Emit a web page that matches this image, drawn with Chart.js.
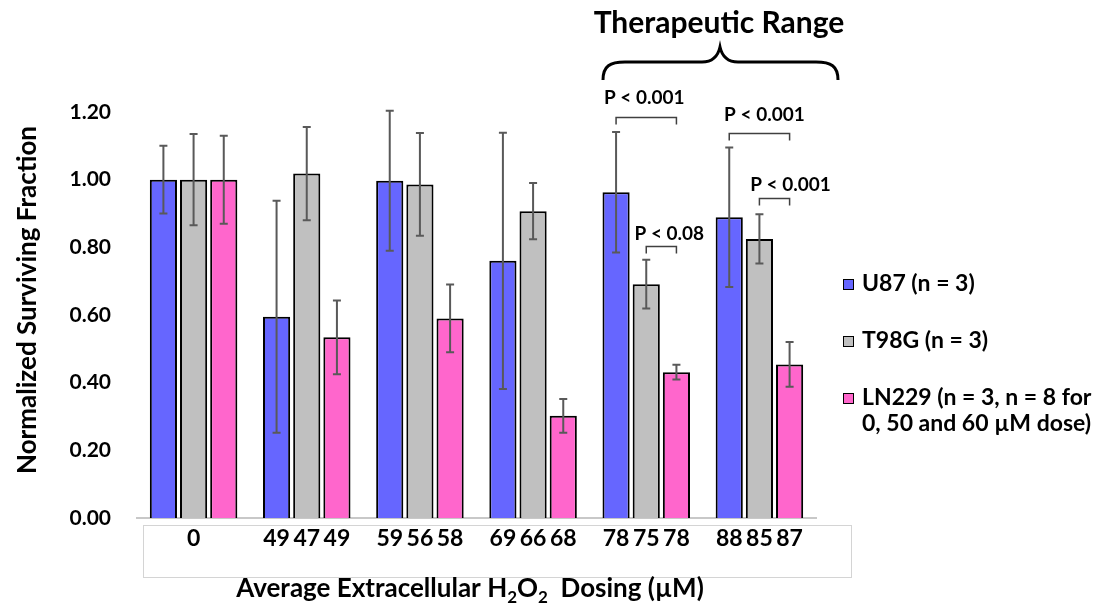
<!DOCTYPE html>
<html>
<head>
<meta charset="utf-8">
<script src="https://cdn.jsdelivr.net/npm/chart.js@4.4.0/dist/chart.umd.min.js"></script>
<style>
  html, body { margin: 0; padding: 0; background: #fff; }
  #wrap { width: 1106px; height: 603px; }
</style>
</head>
<body>
<div id="wrap"><canvas id="survivalChart" width="1106" height="603"></canvas></div>
<script>
// ---------------- data ----------------
const doseGroups = ['0', '49/47/49', '59/56/58', '69/66/68', '78/75/78', '88/85/87'];
const seriesNames = ['U87 (n = 3)', 'T98G (n = 3)', ['LN229 (n = 3, n = 8 for', '0, 50 and 60 \u00b5M dose)']];

const u87Values = [1.00, 0.595, 0.997, 0.760, 0.963, 0.889];
const u87Errors = [0.100, 0.343, 0.207, 0.379, 0.178, 0.206];
const u87Doses = ['', '49', '59', '69', '78', '88'];

const t98gValues = [1.00, 1.018, 0.986, 0.907, 0.691, 0.825];
const t98gErrors = [0.135, 0.138, 0.152, 0.083, 0.072, 0.073];
const t98gDoses = ['0', '47', '56', '66', '75', '85'];

const ln229Values = [1.00, 0.534, 0.590, 0.302, 0.431, 0.454];
const ln229Errors = [0.130, 0.109, 0.100, 0.050, 0.022, 0.066];
const ln229Doses = ['', '49', '58', '68', '78', '87'];

const yTicks = [0, 0.2, 0.4, 0.6, 0.8, 1.0, 1.2];

// significance brackets: group index, series from/to, bracket level, text level (data units)
const pBrackets = [
  { group: 4, from: 0, to: 2, level: 1.185, textLevel: 1.242, text: 'P < 0.001' },
  { group: 4, from: 1, to: 2, level: 0.804, textLevel: 0.840, text: 'P < 0.08' },
  { group: 5, from: 0, to: 2, level: 1.138, textLevel: 1.191, text: 'P < 0.001' },
  { group: 5, from: 1, to: 2, level: 0.946, textLevel: 0.984, text: 'P < 0.001' }
];
const pTextShift = [-2, 8, 5, 16];

const FONT = 'Lato, "Open Sans", sans-serif';
const colors = ['#6666ff', '#c0c0c0', '#ff66cc'];

// ---------------- overlay drawing ----------------
const overlayPlugin = {
  id: 'overlay',
  beforeDraw(chart) {
    const ctx = chart.ctx;
    ctx.save();
    ctx.fillStyle = '#fff';
    ctx.fillRect(0, 0, chart.width, chart.height);
    // label text box under the axis
    ctx.strokeStyle = '#d4d4d4';
    ctx.lineWidth = 1;
    ctx.strokeRect(143.5, 525.5, 708, 52);
    ctx.restore();
  },
  afterDatasetsDraw(chart) {
    const ctx = chart.ctx;
    const y = chart.scales.y;
    ctx.save();

    // error bars
    ctx.strokeStyle = '#595959';
    ctx.lineWidth = 2;
    chart.data.datasets.forEach((ds, i) => {
      chart.getDatasetMeta(i).data.forEach((bar, j) => {
        const top = y.getPixelForValue(ds.data[j] + ds.errors[j]);
        const bot = y.getPixelForValue(ds.data[j] - ds.errors[j]);
        ctx.beginPath();
        ctx.moveTo(bar.x, top); ctx.lineTo(bar.x, bot);
        ctx.moveTo(bar.x - 4, top); ctx.lineTo(bar.x + 4, top);
        ctx.moveTo(bar.x - 4, bot); ctx.lineTo(bar.x + 4, bot);
        ctx.stroke();
      });
    });

    // dose labels under each bar
    ctx.fillStyle = '#000';
    ctx.font = 'bold 23px ' + FONT;
    ctx.textAlign = 'center';
    ctx.textBaseline = 'middle';
    chart.data.datasets.forEach((ds, i) => {
      chart.getDatasetMeta(i).data.forEach((bar, j) => {
        if (ds.doses[j]) ctx.fillText(ds.doses[j], bar.x, 539);
      });
    });

    // p-value brackets
    ctx.strokeStyle = '#404040';
    ctx.lineWidth = 1.5;
    ctx.font = 'bold 19px ' + FONT;
    pBrackets.forEach((b, k) => {
      const x1 = chart.getDatasetMeta(b.from).data[b.group].x;
      const x2 = chart.getDatasetMeta(b.to).data[b.group].x;
      const yy = Math.round(y.getPixelForValue(b.level)) + 0.5;
      ctx.beginPath();
      ctx.moveTo(x1, yy + 7); ctx.lineTo(x1, yy); ctx.lineTo(x2, yy); ctx.lineTo(x2, yy + 7);
      ctx.stroke();
      ctx.fillText(b.text, (x1 + x2) / 2 + pTextShift[k], y.getPixelForValue(b.textLevel));
    });

    // therapeutic range title + brace
    ctx.font = 'bold 30px ' + FONT;
    ctx.fillText('Therapeutic Range', 719, 23);
    ctx.strokeStyle = '#000';
    ctx.lineWidth = 3;
    ctx.beginPath();
    ctx.moveTo(603, 80);
    ctx.bezierCurveTo(603, 66, 610, 62, 625, 62);
    ctx.lineTo(702, 62);
    ctx.bezierCurveTo(713, 62, 718, 56, 720, 47);
    ctx.bezierCurveTo(722, 56, 727, 62, 738, 62);
    ctx.lineTo(816, 62);
    ctx.bezierCurveTo(831, 62, 838, 66, 838, 80);
    ctx.stroke();

    // y axis title
    ctx.save();
    ctx.translate(28, 300);
    ctx.rotate(-Math.PI / 2);
    ctx.font = 'bold 26px ' + FONT;
    ctx.fillText('Normalized Surviving Fraction', 0, 0);
    ctx.restore();

    // x axis title with subscripts
    const parts = [
      ['Average Extracellular H', 26, 0], ['2', 17, 6], ['O', 26, 0], ['2', 17, 6], ['  Dosing (\u00b5M)', 26, 0]
    ];
    let total = 0;
    parts.forEach(p => { ctx.font = 'bold ' + p[1] + 'px ' + FONT; total += ctx.measureText(p[0]).width; });
    let xx = 470 - total / 2;
    ctx.textAlign = 'left';
    ctx.textBaseline = 'alphabetic';
    parts.forEach(p => {
      ctx.font = 'bold ' + p[1] + 'px ' + FONT;
      ctx.fillText(p[0], xx, 597 + p[2]);
      xx += ctx.measureText(p[0]).width;
    });

    // legend
    const rowY = [284, 341, 398];
    ctx.font = 'bold 23px ' + FONT;
    ctx.textBaseline = 'middle';
    chart.data.datasets.forEach((ds, i) => {
      ctx.fillStyle = ds.backgroundColor;
      ctx.fillRect(843, rowY[i] - 5, 11, 11);
      ctx.strokeStyle = '#000';
      ctx.lineWidth = 1;
      ctx.strokeRect(843.5, rowY[i] - 4.5, 10, 10);
      ctx.fillStyle = '#000';
      const lines = Array.isArray(ds.label) ? ds.label : [ds.label];
      lines.forEach((t, k) => ctx.fillText(t, 862, rowY[i] + k * 26));
    });

    ctx.restore();
  }
};

// ---------------- chart ----------------
const ctx = document.getElementById('survivalChart').getContext('2d');
const survivalChart = new Chart(ctx, {
  type: 'bar',
  data: {
    labels: doseGroups,
    datasets: [
      { label: seriesNames[0], data: u87Values, errors: u87Errors, doses: u87Doses, backgroundColor: colors[0], borderColor: '#000', borderWidth: 2 },
      { label: seriesNames[1], data: t98gValues, errors: t98gErrors, doses: t98gDoses, backgroundColor: colors[1], borderColor: '#000', borderWidth: 2 },
      { label: seriesNames[2], data: ln229Values, errors: ln229Errors, doses: ln229Doses, backgroundColor: colors[2], borderColor: '#000', borderWidth: 2 }
    ]
  },
  options: {
    responsive: false,
    animation: false,
    layout: { padding: { top: 112, right: 290, left: 0, bottom: 0 } },
    plugins: { legend: { display: false }, tooltip: { enabled: false } },
    scales: {
      x: {
        grid: { display: false, drawTicks: false },
        ticks: { display: false },
        border: { display: true, color: '#c8c8c8', width: 2 },
        afterFit: s => { s.height = 85; }
      },
      y: {
        min: 0, max: 1.2,
        grid: { display: false, drawTicks: false },
        border: { display: false },
        afterBuildTicks: s => { s.ticks = yTicks.map(v => ({ value: v })); },
        ticks: {
          padding: 26, color: '#000',
          font: { family: FONT, size: 21, weight: 'bold' },
          callback: v => Number(v).toFixed(2)
        },
        afterFit: s => { s.width = 137; }
      }
    }
  },
  plugins: [overlayPlugin]
});
</script>
</body>
</html>
